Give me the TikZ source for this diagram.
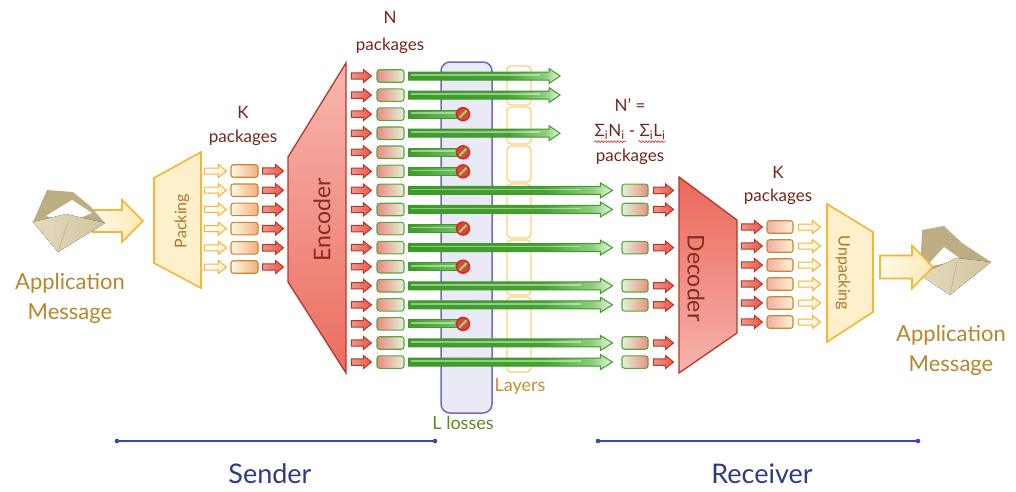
\documentclass[tikz,border=0pt]{standalone}
\usepackage{fontspec}
\setmainfont{Lato}
\usetikzlibrary{calc,decorations.pathmorphing}

% palette
\definecolor{txtred}{HTML}{72261C}
\definecolor{appbrown}{HTML}{B8842C}
\definecolor{packtxt}{HTML}{A9782C}
\definecolor{codetxt}{HTML}{8A2A1F}
\definecolor{yelstroke}{HTML}{F5B535}
\definecolor{yelfill}{HTML}{FEF0C6}
\definecolor{redstroke}{HTML}{B5362A}
\definecolor{redA}{HTML}{F4958A}
\definecolor{redB}{HTML}{E5584A}
\definecolor{grstroke}{HTML}{3E9A2A}
\definecolor{grA}{HTML}{3C9B28}
\definecolor{grB}{HTML}{46A232}
\definecolor{grC}{HTML}{8ECE7D}
\definecolor{grD}{HTML}{E4F5DE}
\definecolor{grE}{HTML}{78C266}
\definecolor{pkgbrown}{HTML}{C98633}
\definecolor{pkggreen}{HTML}{5BA542}
\definecolor{kpkgR}{HTML}{F1B07C}
\definecolor{kpkgL}{HTML}{FFF8E4}
\definecolor{epkgL}{HTML}{EB8A7E}
\definecolor{epkgR}{HTML}{E2F3DA}
\definecolor{rpkgL}{HTML}{E0F3D8}
\definecolor{rpkgR}{HTML}{EC8F84}
\definecolor{dpkgL}{HTML}{F2B0A2}
\definecolor{dpkgR}{HTML}{FFF1D4}
\definecolor{bigL}{HTML}{FFF9E8}
\definecolor{bigR}{HTML}{FDE9B4}
\definecolor{packfill}{HTML}{FDF0CA}
\definecolor{encT}{HTML}{F7B8B0}
\definecolor{encB}{HTML}{EC6C5F}
\definecolor{decT}{HTML}{EB675B}
\definecolor{decB}{HTML}{F6B4AC}
\definecolor{lossring}{HTML}{D2281E}
\definecolor{lossin}{HTML}{D9483B}
\definecolor{lossslash}{HTML}{8ED874}
\definecolor{spellred}{HTML}{E03A2A}
\definecolor{lossblue}{HTML}{6B6BC6}
\definecolor{lossfill}{HTML}{EAEAF7}
\definecolor{layerline}{HTML}{FBD07A}
\definecolor{navy}{HTML}{2E3A86}
\definecolor{lineblue}{HTML}{3848B0}
\definecolor{lossgreen}{HTML}{5B8A1E}
\definecolor{layertxt}{HTML}{CF8B2C}
\definecolor{envback}{HTML}{BCAD84}
\definecolor{envfront}{HTML}{D3C69F}
\definecolor{envlight}{HTML}{E4DABB}

% green tube arrows: dark along most of the length, pale near the head
\pgfdeclarehorizontalshading{greenfade}{100bp}{color(0bp)=(grA); color(25bp)=(grA);
  color(58bp)=(grB); color(70bp)=(grC); color(75bp)=(grD); color(100bp)=(grD)}

% block arrow: style, tail, tip, body half-height, head half-height, head length
\newcommand\blockarrow[6]{%
  \path (#2) coordinate (ba-s) (#3) coordinate (ba-e);
  \path[#1] ($(ba-s)+(0,#4)$) -- ($(ba-e)+(-#6,#4)$) -- ($(ba-e)+(-#6,#5)$) -- (ba-e)
    -- ($(ba-e)+(-#6,-#5)$) -- ($(ba-e)+(-#6,-#4)$) -- ($(ba-s)+(0,-#4)$) -- cycle;}

\tikzset{
  pkgbase/.style={rectangle, rounded corners=2.5pt, inner sep=0pt, minimum width=27pt,
    minimum height=12.5pt, line width=1.1pt},
  kpkg/.style={pkgbase, draw=pkgbrown, left color=kpkgL, right color=kpkgR},
  epkg/.style={pkgbase, draw=pkggreen, left color=epkgL, right color=epkgR},
  rpkg/.style={pkgbase, minimum width=26pt, draw=pkggreen, left color=rpkgL, right color=rpkgR},
  dpkg/.style={pkgbase, minimum width=26pt, draw=pkgbrown, left color=dpkgL, right color=dpkgR},
  yarrow/.style={draw=yelstroke, line width=1pt, left color=white, right color=yelfill},
  rarrow/.style={draw=redstroke, line width=1pt, left color=redA, right color=redB},
  garrow/.style={draw=grstroke, line width=1pt, shade, shading=greenfade},
  gbar/.style={draw=grstroke, line width=1pt, left color=grA, right color=grE},
  ghl/.style={white, opacity=0.45, line width=1.6pt},
  bigarrow/.style={draw=yelstroke, line width=1.6pt, left color=bigL, right color=bigR},
  packshape/.style={draw=yelstroke, line width=1.6pt, fill=packfill},
  encshape/.style={draw=redstroke, line width=1.3pt, top color=encT, bottom color=encB},
  decshape/.style={draw=redstroke, line width=1.3pt, top color=decT, bottom color=decB},
  lossbox/.style={rectangle, rounded corners=9pt, draw=lossblue, line width=1.5pt, fill=lossfill,
    minimum width=51pt, minimum height=351pt, inner sep=0pt},
  layerbox/.style={rectangle, rounded corners=4pt, draw=layerline, line width=1.3pt,
    minimum width=24pt, inner sep=0pt},
  lossmark/.style={circle, inner sep=0pt, minimum size=13pt, draw=lossring, line width=1.4pt,
    fill=lossin},
  lbl/.style={text=txtred, font=\fontsize{17}{20}\selectfont, inner sep=0pt},
  applbl/.style={text=appbrown, font=\fontsize{22}{30}\selectfont, align=center, inner sep=0pt},
  boxlbl/.style={text=packtxt, font=\fontsize{16}{18}\selectfont, inner sep=0pt},
  codelbl/.style={text=codetxt, font=\fontsize{23}{26}\selectfont, inner sep=0pt},
  sidelbl/.style={text=navy, font=\fontsize{27}{30}\selectfont, inner sep=0pt},
  rangeline/.style={draw=lineblue, line width=2pt},
  squiggle/.style={draw=spellred, line width=0.7pt, decorate,
    decoration={snake, amplitude=0.9pt, segment length=3.2pt}},
}

\begin{document}
\begin{tikzpicture}[x=1pt,y=-1pt]
\useasboundingbox (0,0) rectangle (1016,491);

% ---------- loss column and transmission layers ----------
\node[lossbox] (loss) at (466.5,237.5) {};
\foreach \a/\b [count=\n] in {66/105,107/144,146/182,184/238,240/295,297/372}
  \node[layerbox, minimum height={\b-\a}] (layer\n) at (519,{(\a+\b)/2}) {};

% ---------- sender side: message, packing ----------
\coordinate (la-s) at (93,221);
\coordinate (la-e) at (143,221);
\blockarrow{bigarrow}{la-s}{la-e}{11}{21}{21}

% left envelope: back with open flap, white inside, front panel
\fill[envback] (33,222) -- (47,190) -- (73,192) -- (90,206) -- (105,223) -- (58,252) -- cycle;
\fill[white] (46,216) -- (72,200) -- (92,213) -- (70,222) -- cycle;
\fill[left color=envlight, right color=envfront] (33,222) -- (66,214) -- (105,223) -- (58,252) -- cycle;
\draw[envback, line width=0.6pt] (58,252) -- (68,222);
\node[applbl] (appl) at (70,298) {Application\\Message};

\path[packshape] (154,178) -- (201,152) -- (201,288) -- (154,263) -- cycle;
\node[boxlbl, rotate=90] (packtext) at (182,221) {Packing};

\foreach \i in {0,...,5}{
  \pgfmathsetmacro\yy{171+19.2*\i}
  \node[kpkg] (kp\i) at (244.5,\yy) {};
  \blockarrow{yarrow}{$(kp\i.west)+(-26,0)$}{$(kp\i.west)+(-4,0)$}{3}{6.5}{8}
  \blockarrow{rarrow}{$(kp\i.east)+(4,0)$}{$(kp\i.east)+(25,0)$}{3.2}{6.5}{8}
}
\node[lbl] (kl) at (243,112) {K};
\node[lbl] (klp) at (243,138) {packages};

% ---------- encoder ----------
\path[encshape] (288,157) -- (346,63) -- (346,373) -- (288,282) -- cycle;
\node[codelbl, rotate=90] (enctext) at (322,220) {Encoder};

\foreach \i in {0,...,15}{
  \pgfmathsetmacro\yy{76+19.07*\i}
  \node[epkg] (ep\i) at (390.5,\yy) {};
  \blockarrow{rarrow}{$(ep\i.west)+(-25,0)$}{$(ep\i.west)+(-5,0)$}{3.2}{6.5}{8}
}
\node[lbl] (nl) at (390,17) {N};
\node[lbl] (nlp) at (390,46) {packages};

% packets that leave the picture
\foreach \i in {0,1,3}{
  \pgfmathsetmacro\yy{76+19.07*\i}
  \coordinate (se\i) at (560,\yy);
  \blockarrow{garrow}{$(ep\i.east)+(4,0)$}{se\i}{4}{7.5}{11}
  \draw[ghl] ($(ep\i.east)+(6,-1)$) -- ($(se\i)+(-20,-1)$);
}

% lost packets
\foreach \i in {2,4,5,8,10,13}{
  \pgfmathsetmacro\yy{76+19.07*\i}
  \coordinate (lp\i) at (463,\yy);
  \path[gbar] ($(ep\i.east)+(4,-4)$) rectangle ($(lp\i)+(0,4)$);
  \draw[ghl] ($(ep\i.east)+(6,-1)$) -- ($(lp\i)+(-8,-1)$);
  \node[lossmark] (lc\i) at (lp\i) {};
  \draw[lossslash, line width=2.2pt] ($(lc\i.center)+(-3.6,3.6)$) -- ($(lc\i.center)+(3.6,-3.6)$);
}

% ---------- receiver side ----------
\foreach \i in {6,7,9,11,12,14,15}{
  \pgfmathsetmacro\yy{76+19.07*\i}
  \node[rpkg] (rp\i) at (635,\yy) {};
  \blockarrow{garrow}{$(ep\i.east)+(4,0)$}{$(rp\i.west)+(-9,0)$}{4}{7.5}{12}
  \draw[ghl] ($(ep\i.east)+(6,-1)$) -- ($(rp\i.west)+(-40,-1)$);
  \blockarrow{rarrow}{$(rp\i.east)+(5,0)$}{$(rp\i.east)+(25,0)$}{3.2}{6.5}{8}
}

\node[lbl] (np1) at (630,105) {N' =};
\node[lbl] (np2) at (630,132) {Σ\textsubscript{i}N\textsubscript{i} - Σ\textsubscript{i}L\textsubscript{i}};
\node[lbl] (np3) at (630,157) {packages};
\draw[squiggle] ($(np2.south west)+(0,2)$) -- ($(np2.south west)+(32,2)$);
\draw[squiggle] ($(np2.south east)+(-27,2)$) -- ($(np2.south east)+(0,2)$);

% decoder
\path[decshape] (679,177) -- (737,220) -- (737,333) -- (679,373) -- cycle;
\node[codelbl, rotate=-90] (dectext) at (696,278) {Decoder};

\foreach \i in {0,...,5}{
  \pgfmathsetmacro\yy{227+19*\i}
  \node[dpkg] (dp\i) at (780,\yy) {};
  \blockarrow{rarrow}{$(dp\i.west)+(-25,0)$}{$(dp\i.west)+(-4,0)$}{3.2}{6.5}{8}
  \blockarrow{yarrow}{$(dp\i.east)+(5,0)$}{$(dp\i.east)+(27,0)$}{3}{6.5}{8}
}
\node[lbl] (kr) at (778,172) {K};
\node[lbl] (krp) at (778,197) {packages};

% unpacking
\path[packshape] (827,204) -- (873,232) -- (873,312) -- (827,342) -- cycle;
\node[boxlbl, rotate=-90] (unpacktext) at (843,273) {Unpacking};

% right envelope
\fill[envback] (920,275) -- (922,230) -- (944,226) -- (962,243) -- (991,262) -- (950,295) -- cycle;
\fill[white] (926,267) -- (944,247) -- (962,260) -- cycle;
\fill[left color=envlight, right color=envfront] (920,275) -- (956,258) -- (991,262) -- (950,295) -- cycle;
\draw[envback, line width=0.6pt] (950,295) -- (957,262);

\coordinate (ra-s) at (880,267);
\coordinate (ra-e) at (933,267);
\blockarrow{bigarrow}{ra-s}{ra-e}{11.5}{21.5}{21}
\node[applbl] (appr) at (951,350) {Application\\Message};

% ---------- labels and ranges ----------
\node[text=layertxt, font=\fontsize{18}{20}\selectfont, inner sep=0pt] (layertext) at (520,387) {Layers};
\node[text=lossgreen, font=\fontsize{18}{20}\selectfont, inner sep=0pt] (losstext) at (463,423) {L losses};

\coordinate (snd-a) at (117,441);
\coordinate (snd-b) at (435,441);
\coordinate (rcv-a) at (598,441);
\coordinate (rcv-b) at (918,441);
\draw[rangeline] (snd-a) -- (snd-b);
\draw[rangeline] (rcv-a) -- (rcv-b);
\foreach \c in {snd-a,snd-b,rcv-a,rcv-b} \fill[lineblue] (\c) circle (2.3);
\node[sidelbl] (sender) at (270,474) {Sender};
\node[sidelbl] (receiver) at (762,474) {Receiver};
\end{tikzpicture}
\end{document}
